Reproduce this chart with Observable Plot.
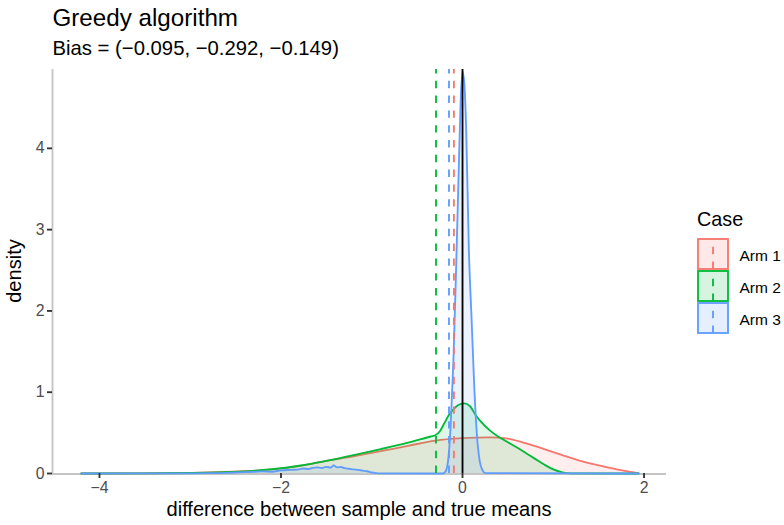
<!DOCTYPE html>
<html><head><meta charset="utf-8">
<script src="https://cdn.jsdelivr.net/npm/d3@7"></script>
<script src="https://cdn.jsdelivr.net/npm/@observablehq/plot@0.6"></script>
<style>body{margin:0;background:#fff;} #chart{width:784px;height:525px;}</style>
</head><body><div id="chart"></div>
<script>
const titleText = "Greedy algorithm";
const subtitleText = "Bias = (\u22120.095, \u22120.292, \u22120.149)";
const xLabel = "difference between sample and true means";
const yLabel = "density";
const legendTitle = "Case";
const arms = ["Arm 1", "Arm 2", "Arm 3"];
const armColors = ["#F8766D", "#00BA38", "#619CFF"];
const armMeans = [-0.095, -0.292, -0.149];
const xTicks = [-4, -2, 0, 2];
const yTicks = [0, 1, 2, 3, 4];
const xDomain = [-4.5175, 2.2475];
const yDomain = [0, 4.97];

const arm1X = [-4.2, -3.6, -3.3, -3.0, -2.7, -2.4, -2.1, -1.8, -1.5, -1.2, -0.9, -0.6, -0.3, 0.0, 0.3, 0.5, 0.7, 0.9, 1.1, 1.3, 1.5, 1.7, 1.85, 1.94];
const arm1Y = [0.000, 0.002, 0.004, 0.008, 0.015, 0.028, 0.050, 0.090, 0.155, 0.210, 0.275, 0.340, 0.405, 0.435, 0.445, 0.430, 0.370, 0.300, 0.225, 0.155, 0.100, 0.050, 0.020, 0.005];

const arm2X = [-4.2, -3.5, -3.0, -2.7, -2.4, -2.1, -1.8, -1.5, -1.2, -0.9, -0.6, -0.4, -0.35, -0.3, -0.25, -0.2, -0.15, -0.1, -0.05, 0.02, 0.08, 0.15, 0.2, 0.3, 0.4, 0.5, 0.6, 0.7, 0.8, 0.9, 1.0, 1.1, 1.2, 1.94];
const arm2Y = [0, 0.002, 0.006, 0.012, 0.025, 0.052, 0.095, 0.155, 0.225, 0.300, 0.380, 0.440, 0.455, 0.470, 0.520, 0.620, 0.720, 0.790, 0.840, 0.862, 0.830, 0.710, 0.640, 0.530, 0.450, 0.385, 0.320, 0.250, 0.180, 0.110, 0.050, 0.015, 0.002, 0];

const arm3X = [-4.2, -3.0, -2.8, -2.6, -2.5, -2.4, -2.3, -2.2, -2.1, -2.0, -1.9, -1.8, -1.75, -1.7, -1.65, -1.6, -1.55, -1.5, -1.45, -1.42, -1.38, -1.34, -1.3, -1.25, -1.2, -1.15, -1.1, -1.05, -1.0, -0.95, -0.9, -0.22, -0.19, -0.16, -0.13, -0.10, -0.07, -0.04, -0.02, 0.0, 0.02, 0.04, 0.07, 0.10, 0.13, 0.16, 0.19, 0.22, 0.25, 1.94];
const arm3Y = [0, 0.002, 0.004, 0.008, 0.012, 0.016, 0.020, 0.026, 0.022, 0.038, 0.045, 0.050, 0.062, 0.055, 0.070, 0.075, 0.068, 0.082, 0.072, 0.100, 0.075, 0.080, 0.065, 0.058, 0.050, 0.045, 0.035, 0.028, 0.012, 0.004, 0.001, 0, 0.02, 0.15, 0.6, 1.4, 2.55, 3.8, 4.6, 4.94, 4.8, 4.25, 2.75, 1.9, 1.05, 0.45, 0.15, 0.04, 0.005, 0];

const series = [[arm1X, arm1Y], [arm2X, arm2Y], [arm3X, arm3Y]].map(([xs, ys], i) =>
  xs.map((x, j) => ({arm: arms[i], x, y: ys[j]})));

const FONT = "'Liberation Sans', Arial, Helvetica, sans-serif";
const LW = 1.85;
const DASH = "7.4,7.4";
const fillAlpha = 0.12;
const keyAlpha = 0.16;

const marks = [
  Plot.ruleY([yDomain[0]], {stroke: "#c4c4c4", strokeWidth: LW, dy: 0.5}),
  Plot.ruleX([xDomain[0]], {stroke: "#c4c4c4", strokeWidth: LW})
];
series.forEach((rows, i) => {
  marks.push(Plot.areaY(rows, {x: "x", y: "y", fill: armColors[i], fillOpacity: fillAlpha, curve: "monotone-x"}));
  marks.push(Plot.lineY(rows, {x: "x", y: "y", stroke: armColors[i], strokeWidth: LW, curve: "monotone-x"}));
});
armMeans.forEach((m, i) => {
  marks.push(Plot.ruleX([m], {y1: yDomain[0], y2: yDomain[1], stroke: armColors[i], strokeWidth: LW, strokeDasharray: DASH}));
});
marks.push(Plot.ruleX([0], {y1: yDomain[0], y2: yDomain[1], stroke: "black", strokeWidth: LW}));
marks.push(Plot.axisX({ticks: xTicks, tickFormat: "d", tickSize: 5, tickPadding: 3, fontSize: 15.8, label: null, stroke: "#333", strokeWidth: LW, fill: "#4d4d4d"}));
marks.push(Plot.axisY({ticks: yTicks, tickFormat: "d", tickSize: 5, tickPadding: 3, fontSize: 15.8, label: null, stroke: "#333", strokeWidth: LW, fill: "#4d4d4d"}));

const chart = Plot.plot({
  width: 784, height: 525,
  marginLeft: 52, marginRight: 118, marginTop: 69, marginBottom: 52,
  x: {domain: xDomain},
  y: {domain: yDomain},
  style: {fontFamily: FONT, background: "white", overflow: "visible"},
  marks
});
document.getElementById("chart").appendChild(chart);

const svg = d3.select(chart);
const txt = (x, y, size, s, anchor = "start") => svg.append("text")
  .attr("x", x).attr("y", y).attr("font-size", size).attr("fill", "black")
  .attr("text-anchor", anchor).attr("font-family", FONT).text(s);
txt(52.5, 26, 24.2, titleText);
txt(52.5, 55, 20.3, subtitleText);
txt(359, 516, 20.1, xLabel, "middle");
svg.append("text").attr("transform", "translate(21,271) rotate(-90)").attr("text-anchor", "middle")
  .attr("font-size", 20.1).attr("font-family", FONT).attr("fill", "black").text(yLabel);

txt(697, 226, 19.8, legendTitle);
arms.forEach((a, i) => {
  const top = 238 + 32 * i;
  svg.append("rect").attr("x", 698).attr("y", top + 1).attr("width", 30).attr("height", 30)
    .attr("fill", armColors[i]).attr("fill-opacity", keyAlpha)
    .attr("stroke", armColors[i]).attr("stroke-width", LW);
  svg.append("line").attr("x1", 713).attr("x2", 713).attr("y1", top + 31).attr("y2", top + 1)
    .attr("stroke", armColors[i]).attr("stroke-width", LW).attr("stroke-dasharray", DASH);
  txt(739.5, top + 16 + 7, 15.5, a);
});
</script></body></html>
